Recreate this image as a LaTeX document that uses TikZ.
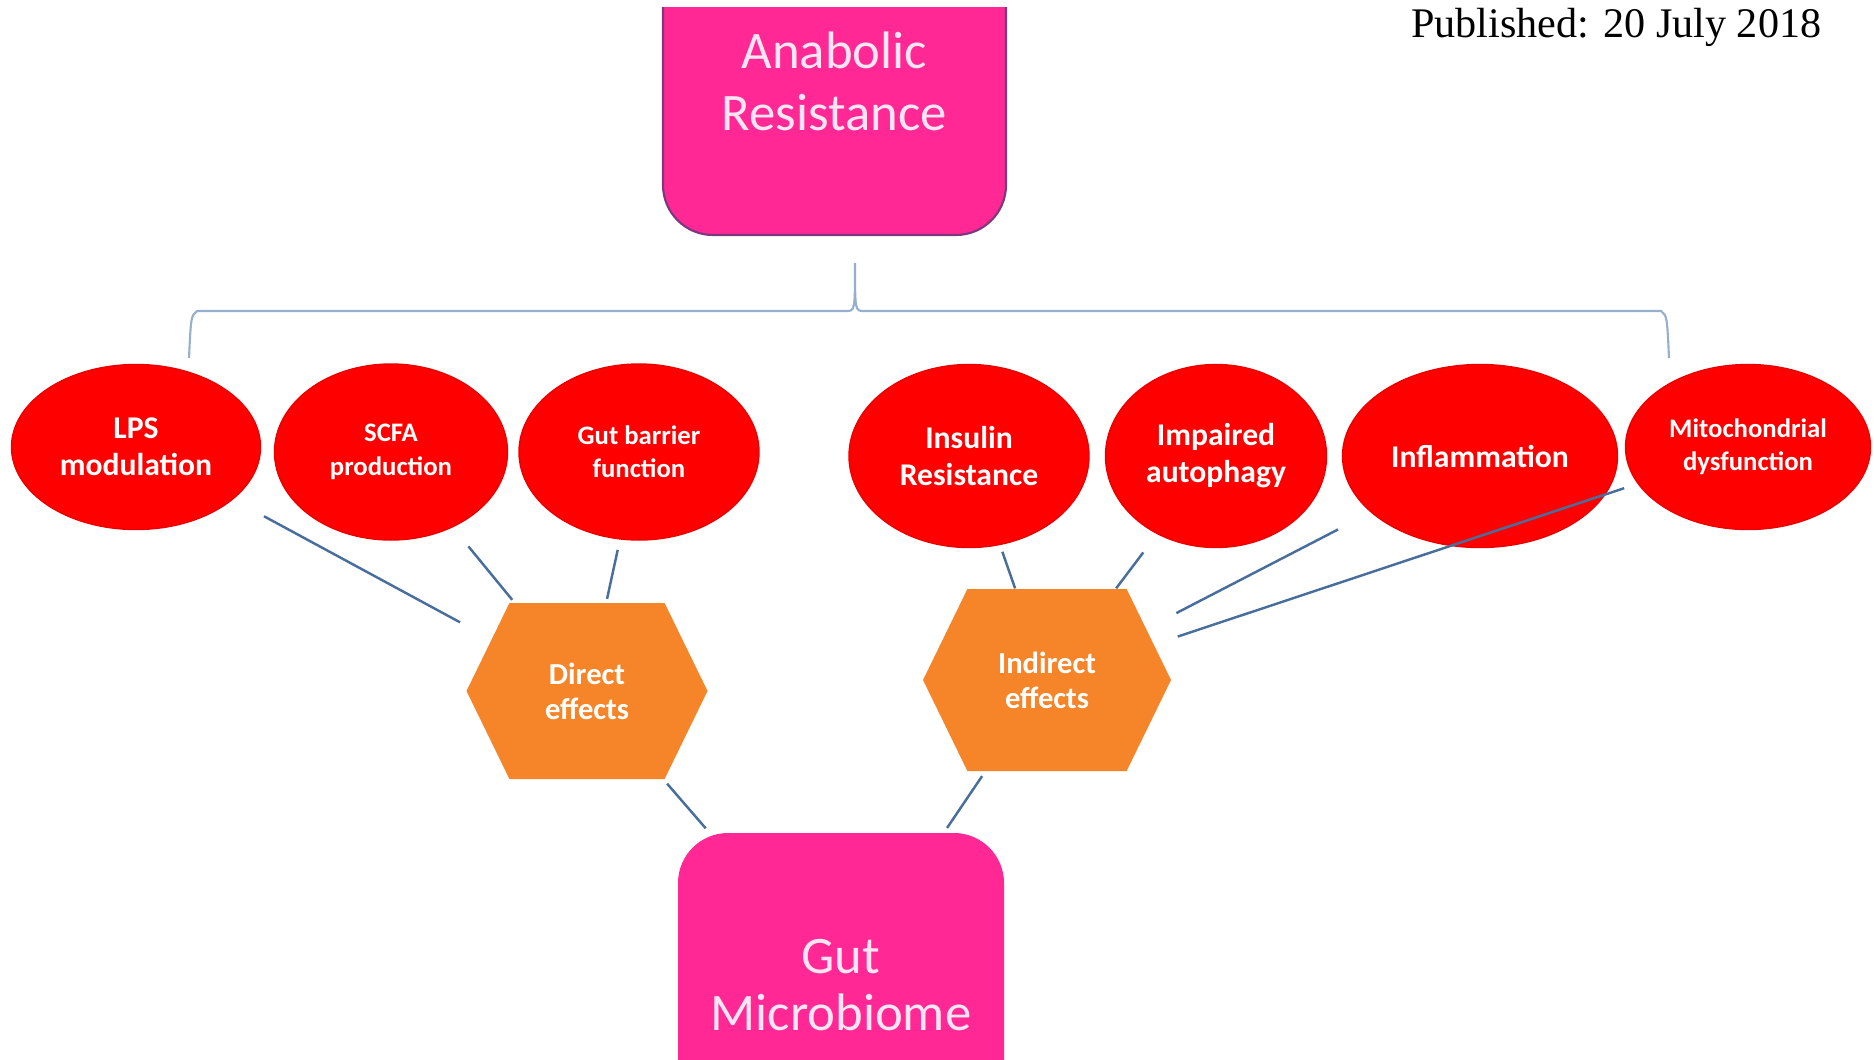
\documentclass[tikz,border=0pt]{standalone}
\usepackage{fontspec}
\newfontfamily\calibri{Carlito}
\newfontfamily\pubserif{Liberation Serif}
\usetikzlibrary{shapes.geometric,shapes.symbols}
\definecolor{boxpink}{RGB}{255,40,148}
\definecolor{boxedge}{RGB}{125,55,125}
\definecolor{textpink}{RGB}{255,228,242}
\definecolor{effred}{RGB}{255,0,0}
\definecolor{hexorange}{RGB}{246,133,42}
\definecolor{linkblue}{RGB}{74,110,156}
\definecolor{bracegrey}{RGB}{150,175,205}

\begin{document}
\begin{tikzpicture}[
    pinkbox/.style={rectangle,rounded corners=0.5cm,fill=boxpink,text=textpink,align=center,inner sep=0pt},
    effect/.style={ellipse,fill=effred,draw=effred!92!black,line width=0.4pt,text=white,align=center,inner sep=0pt,font=\calibri\bfseries\fontsize{9}{10.5}\selectfont},
    hexa/.style={signal,signal to=east and west,signal pointer angle=128,fill=hexorange,text=white,align=center,inner sep=0pt,font=\calibri\bfseries\fontsize{8.7}{10}\selectfont},
    link/.style={draw=linkblue,line width=0.7pt},
    bracket/.style={draw=bracegrey,line width=0.6pt}
]
                \useasboundingbox (0,0) rectangle (18.74,-10.59);
                \fill[white] (0,0) rectangle (18.74,-10.59);

                \begin{scope}
                    \clip (0,-0.07) rectangle (18.74,-10.59);
                    \node[pinkbox,draw=boxedge,line width=0.6pt,minimum width=3.43cm,minimum height=3.08cm,font=\calibri\fontsize{15}{17.6}\selectfont] (anabolic) at (8.345,-0.81) {Anabolic\\Resistance};
                    \node[pinkbox,minimum width=3.26cm,minimum height=3.04cm,font=\calibri\fontsize{15}{16.2}\selectfont] (gut) at (8.41,-9.85) {Gut\\Microbiome};
                \end{scope}

                \node[font=\pubserif\fontsize{12}{14}\selectfont,anchor=base east,inner sep=0pt] (published) at (18.22,-0.37) {Published: 20 July 2018};

                \node[effect,minimum width=2.49cm,minimum height=1.65cm] (lps) at (1.36,-4.47) {LPS\\modulation};
                \node[effect,minimum width=2.33cm,minimum height=1.76cm,font=\calibri\bfseries\fontsize{7.6}{9.5}\selectfont] (scfa) at (3.91,-4.52) {SCFA\\production};
                \node[effect,minimum width=2.40cm,minimum height=1.76cm,font=\calibri\bfseries\fontsize{7.6}{9.5}\selectfont] (barrier) at (6.39,-4.52) {Gut barrier\\function};
                \node[effect,minimum width=2.40cm,minimum height=1.83cm] (insulin) at (9.69,-4.56) {Insulin\\Resistance};
                \node[effect,minimum width=2.21cm,minimum height=1.83cm] (autophagy) at (12.16,-4.56) {Impaired\\autophagy};
                \node[effect,minimum width=2.75cm,minimum height=1.83cm] (inflam) at (14.80,-4.56) {Inflammation};
                \node[effect,minimum width=2.45cm,minimum height=1.65cm,font=\calibri\bfseries\fontsize{7.6}{9.5}\selectfont] (mito) at (17.48,-4.47) {Mitochondrial\\dysfunction};

                \node[hexa,minimum width=2.41cm,minimum height=1.76cm] (direct) at (5.87,-6.91) {Direct\\effects};
                \node[hexa,minimum width=2.48cm,minimum height=1.82cm] (indirect) at (10.47,-6.80) {Indirect\\effects};

                \coordinate (braceL) at (1.89,-3.58);
                \coordinate (braceR) at (16.69,-3.58);
                \coordinate (braceTip) at (8.55,-2.63);
                \draw[bracket] (braceL) .. controls (1.91,-3.16) .. (1.97,-3.11) -- (8.46,-3.11) .. controls (8.55,-3.11) .. (braceTip) .. controls (8.55,-3.11) .. (8.64,-3.11) -- (16.61,-3.11) .. controls (16.67,-3.16) .. (braceR);

                \draw[link,shorten <=10pt,shorten >=10pt] (lps) -- (direct);
                \draw[link,shorten <=7pt,shorten >=1pt] (scfa) -- (direct);
                \draw[link,shorten <=3pt,shorten >=1pt] (barrier) -- (direct);
                \draw[link,shorten <=2pt,shorten >=0pt] (insulin) -- (indirect);
                \draw[link,shorten <=6.5pt,shorten >=0pt] (autophagy) -- (indirect);
                \draw[link,shorten <=10.5pt,shorten >=9.5pt] (inflam) -- (indirect);
                \draw[link,shorten <=4pt,shorten >=7pt] (mito) -- (indirect);
                \draw[link,shorten <=1.5pt,shorten >=1.5pt] (direct) -- (gut);
                \draw[link,shorten <=1.5pt,shorten >=1.5pt] (indirect) -- (gut);
            \end{tikzpicture}
\end{document}
